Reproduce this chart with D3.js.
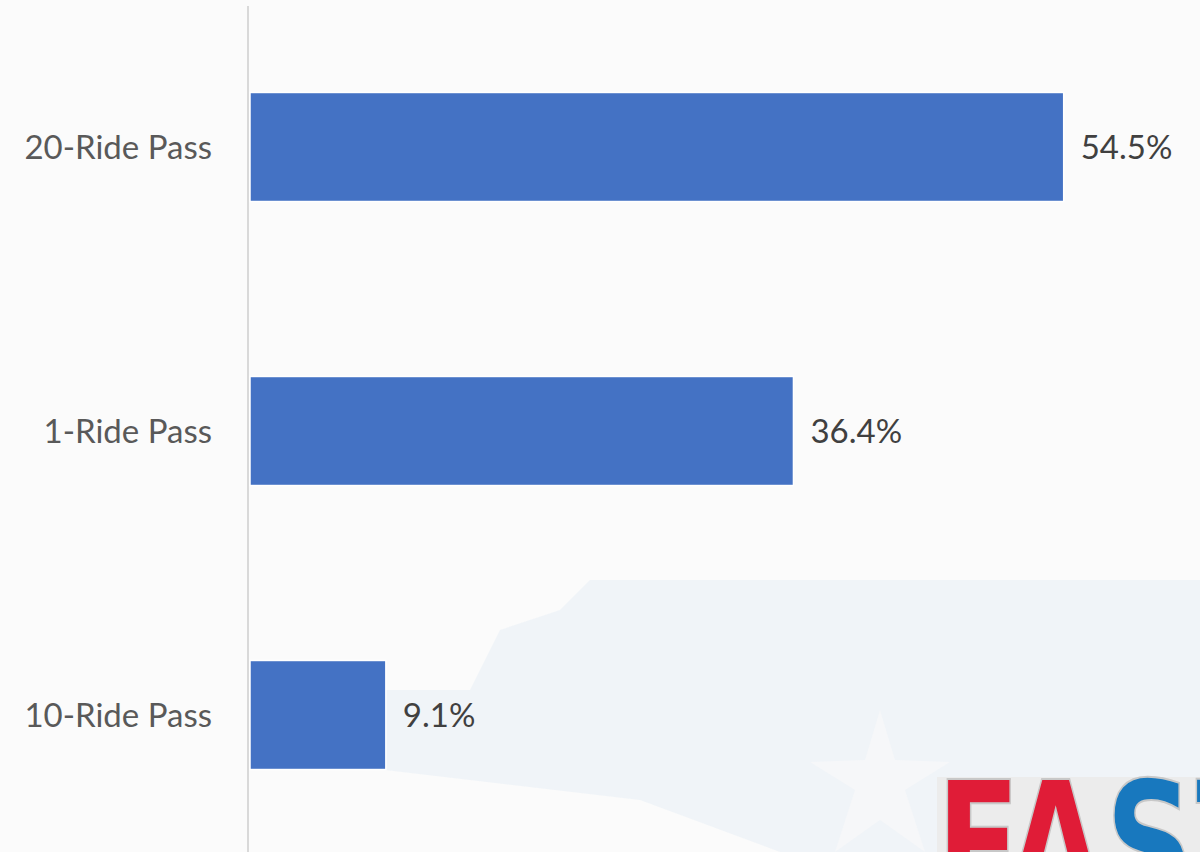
<!DOCTYPE html>
<html>
<head>
<meta charset="utf-8">
<script src="https://cdn.jsdelivr.net/npm/d3@7"></script>
<style>
  html, body { margin: 0; padding: 0; background: #fbfbfb; overflow: hidden; }
  svg { display: block; font-family: Lato, "Open Sans", sans-serif; }
</style>
</head>
<body>
<svg id="chart" width="1200" height="852"></svg>
<script>
const categories = ['20-Ride Pass', '1-Ride Pass', '10-Ride Pass']
const shares = [54.5, 36.4, 9.1]

const svg = d3.select('#chart'),
    width = +svg.attr('width'),
    height = +svg.attr('height'),
    left = 249

// background watermark (faint star shape and blue wash)
const bg = svg.append('g')
bg.append('rect').attr('width', width).attr('height', height).attr('fill', '#fbfbfb')
bg.append('path')
    .attr('d', 'M385,770 L385,690 L470,690 L500,630 L560,610 L590,580 L1200,580 L1200,852 L780,852 L640,800 Z')
    .attr('fill', '#eef2f8').attr('opacity', 0.8)
bg.append('path')
    .attr('d', 'M880,710 L895,760 L950,762 L905,790 L925,852 L880,820 L835,852 L855,790 L810,762 L865,760 Z')
    .attr('fill', '#f6f7f9')

let y = d3.scaleBand().domain(categories).range([5, height + 5])
        .paddingInner(0.616).paddingOuter(0.308),
    x = d3.scaleLinear().domain([0, 60]).range([left, left + 60 * 14.93])

svg.append('line')
    .attr('x1', left - 1).attr('x2', left - 1)
    .attr('y1', 6).attr('y2', height)
    .attr('stroke', '#d9d9d9').attr('stroke-width', 2)

svg.selectAll('rect.bar')
    .data(categories)
    .enter()
    .append('rect')
    .attr('class', 'bar')
    .attr('x', x(0) + 1)
    .attr('y', d => y(d))
    .attr('width', (d, i) => x(shares[i]) - x(0))
    .attr('height', y.bandwidth())
    .attr('fill', '#4472c4')
    .attr('stroke', '#ffffff').attr('stroke-width', 1.5)

svg.selectAll('text.cat')
    .data(categories)
    .enter()
    .append('text')
    .attr('class', 'cat')
    .attr('x', 212)
    .attr('y', d => y(d) + y.bandwidth() / 2)
    .attr('dy', '0.35em')
    .attr('text-anchor', 'end')
    .attr('font-size', 33)
    .attr('fill', '#595959')
    .text(d => d)

svg.selectAll('text.val')
    .data(categories)
    .enter()
    .append('text')
    .attr('class', 'val')
    .attr('x', (d, i) => x(shares[i]) + 18)
    .attr('y', d => y(d) + y.bandwidth() / 2)
    .attr('dy', '0.35em')
    .attr('font-size', 33)
    .attr('fill', '#404040')
    .text((d, i) => shares[i].toFixed(1) + '%')

// FAST logo in the corner, runs off the page as in the original
const logo = svg.append('g')
logo.append('rect').attr('x', 937).attr('y', 777).attr('width', 263).attr('height', 80)
    .attr('fill', '#ececec')
logo.append('text')
    .attr('transform', 'translate(936,904) scale(0.72,1)')
    .attr('font-family', '"DejaVu Sans", sans-serif')
    .attr('font-weight', 'bold')
    .attr('font-size', 172)
    .attr('letter-spacing', 2)
    .attr('stroke', '#c8c8c8').attr('stroke-width', 2)
    .selectAll('tspan')
    .data([['FA', '#e01c37'], ['ST', '#1878be']])
    .enter()
    .append('tspan')
    .attr('fill', d => d[1])
    .text(d => d[0])
</script>
</body>
</html>
